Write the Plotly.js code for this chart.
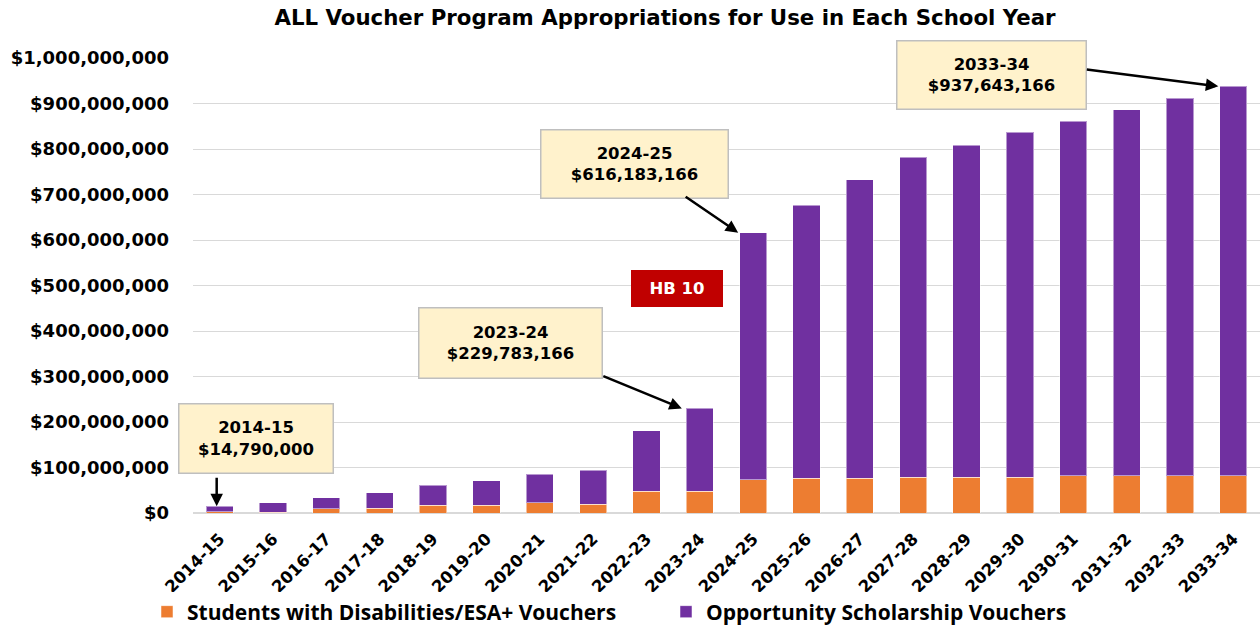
<!DOCTYPE html>
<html>
<head>
<meta charset="utf-8">
<script src="https://cdn.plot.ly/plotly-3.0.1.min.js"></script>
<style>html,body{margin:0;padding:0;background:#fff;}#chart{width:1260px;height:626px;}</style>
</head>
<body>
<div id="chart"></div>
<script>
const years = ["2014-15","2015-16","2016-17","2017-18","2018-19","2019-20","2020-21","2021-22","2022-23","2023-24","2024-25","2025-26","2026-27","2027-28","2028-29","2029-30","2030-31","2031-32","2032-33","2033-34"];
const disabilitiesESA = [3000000,2000000,9000000,11000000,16800000,16800000,22000000,19000000,47500000,47500000,73000000,76000000,76000000,79000000,79000000,79000000,82000000,82000000,82000000,82000000];
const opportunity = [11790000,20700000,24700000,34000000,44200000,53700000,63700000,75000000,133500000,182283166,543183166,600000000,656600000,703400000,729000000,757600000,778800000,804400000,829400000,855643166];
const seriesNames = ["Students with Disabilities/ESA+ Vouchers","Opportunity Scholarship Vouchers"];
const calloutYears = ["2014-15","2023-24","2024-25","2033-34"];

const totals = years.map((y,i)=>disabilitiesESA[i]+opportunity[i]);
const fmt = v => "$" + Math.round(v).toLocaleString("en-US");

const L=193, T=58, W=1067, H=455;
const px = x => (x-L)/W;
const py = y => (T+H-y)/H;

const boldFont = "DejaVu Sans";
function box(year, cx, cy, w, h){
  const i = years.indexOf(year);
  return {xref:"paper", yref:"paper", x:px(cx), y:py(cy), xanchor:"center", yanchor:"middle",
    text:"<b>"+year+"</b><br><b>"+fmt(totals[i])+"</b>", showarrow:false,
    width:w, height:h, bgcolor:"#FFF2CC", bordercolor:"#BFBFBF", borderwidth:1.5, borderpad:0,
    font:{family:boldFont, size:16.5, color:"#000"}, align:"center"};
}
function arrow(year, xshift, ax, ay){
  const i = years.indexOf(year);
  return {xref:"x", yref:"y", x:year, y:totals[i], xshift:xshift, text:"", showarrow:true,
    ax:ax, ay:ay, arrowhead:2, arrowsize:1, arrowwidth:2.5, arrowcolor:"#000"};
}

const annotations = [
  box(calloutYears[0], 255.5, 438, 153, 68),
  box(calloutYears[1], 510, 342.5, 182, 69),
  box(calloutYears[2], 634, 164.5, 186, 67),
  box(calloutYears[3], 991, 74.5, 188, 67),
  {xref:"paper", yref:"paper", x:px(677), y:py(288.5), xanchor:"center", yanchor:"middle",
   text:"<b>HB 10</b>", showarrow:false, width:90, height:35, bgcolor:"#C00000",
   bordercolor:"#C00000", borderwidth:1, borderpad:0, font:{family:boldFont, size:16.5, color:"#fff"}},
  arrow(calloutYears[0], -3, 0, -30),
  arrow(calloutYears[1], -18, -80, -33),
  arrow(calloutYears[2], -15, -54, -37),
  arrow(calloutYears[3], -15, -133, -17)
];

const traces = [
  {type:"bar", name:seriesNames[0], x:years, y:disabilitiesESA,
   marker:{color:"#ED7D31", line:{color:"rgba(255,255,255,0.5)", width:1}}},
  {type:"bar", name:seriesNames[1], x:years, y:opportunity,
   marker:{color:"#7030A0", line:{color:"rgba(255,255,255,0.5)", width:1}}}
];

const layout = {
  width:1260, height:626,
  margin:{l:L, r:1260-L-W, t:T, b:626-T-H, pad:0},
  paper_bgcolor:"#fff", plot_bgcolor:"#fff",
  barmode:"stack", bargap:0.49,
  title:{text:"<b>ALL Voucher Program Appropriations for Use in Each School Year</b>",
    font:{family:boldFont, size:21.3, color:"#000"}, xref:"container", yref:"container",
    x:665/1260, y:1-18/626, xanchor:"center", yanchor:"middle"},
  xaxis:{type:"category", tickangle:-45, tickfont:{family:boldFont, size:16.5, color:"#000", weight:"bold"},
    showgrid:false, showline:false, ticks:"", automargin:false, ticklabelstandoff:12},
  yaxis:{range:[0,1000000000], dtick:100000000, tickformat:"$,.0f",
    tickfont:{family:boldFont, size:18, color:"#000", weight:"bold"}, gridcolor:"#D9D9D9", gridwidth:1,
    zeroline:true, zerolinecolor:"#D9D9D9", zerolinewidth:2, ticklabelstandoff:23,
    showline:false, automargin:false, fixedrange:true},
  legend:{orientation:"h", xref:"container", yref:"container", x:147/1260, y:(626-612)/626,
    xanchor:"left", yanchor:"middle",
    font:{family:"Open Sans", size:21, color:"#000", weight:"bold"}, traceorder:"normal",
    entrywidth:474, entrywidthmode:"pixels", itemwidth:30},
  showlegend:true,
  annotations:annotations
};

Plotly.newPlot("chart", traces, layout, {displayModeBar:false, staticPlot:true});
</script>
</body>
</html>
